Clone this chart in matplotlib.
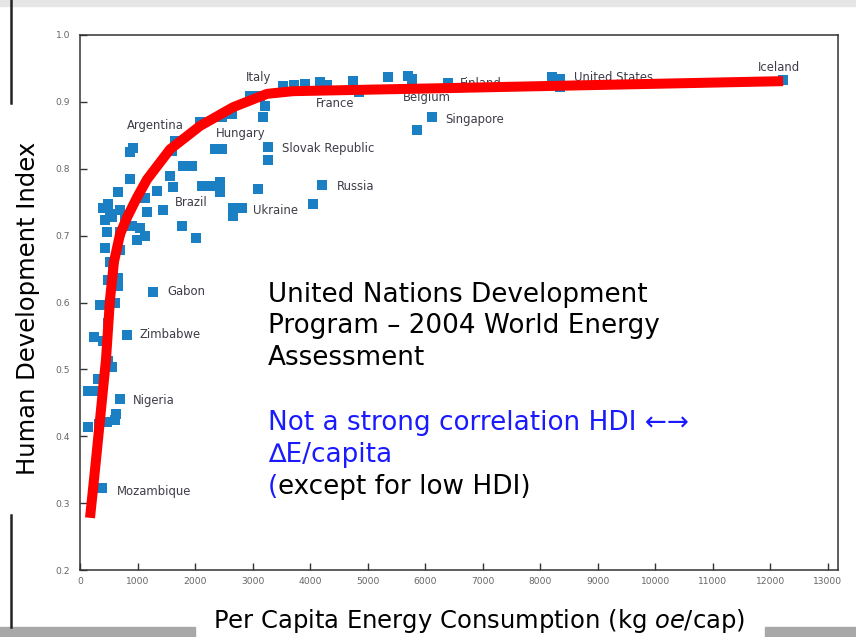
import matplotlib
matplotlib.use("Agg")
import matplotlib.pyplot as plt
from matplotlib.lines import Line2D
from matplotlib.patches import Rectangle

# per capita energy use (kg oe/cap) and HDI
energy = [12225, 8208, 8347, 8347, 6400, 5704, 5773, 5356, 4748, 4852,
          4174, 4295, 3913, 3722, 3530, 2956, 3130, 3217, 3183, 2643,
          2469, 2087, 6121, 5860, 3269, 3269, 2348, 2469, 1652, 1600,
          870, 922, 1791, 1948, 1565, 1617, 870, 2122, 2261, 2435,
          2435, 3095, 4208, 4052, 2661, 2817, 2661, 1443, 1339, 661,
          1130, 487, 696, 1165, 435, 1774, 2017, 904, 1043, 470,
          991, 1130, 696, 435, 696, 574, 487, 661, 661, 348,
          609, 487, 243, 400, 817, 1269, 487, 556, 313, 139,
          243, 696, 139, 330, 470, 609, 626, 383, 522, 783,
          522, 400, 560]
hdi = [0.933, 0.937, 0.934, 0.922, 0.928, 0.939, 0.934, 0.937, 0.931, 0.915,
       0.930, 0.925, 0.927, 0.925, 0.924, 0.909, 0.909, 0.894, 0.877, 0.882,
       0.877, 0.870, 0.877, 0.858, 0.832, 0.813, 0.829, 0.829, 0.841, 0.826,
       0.825, 0.831, 0.804, 0.804, 0.789, 0.772, 0.784, 0.774, 0.774, 0.780,
       0.765, 0.769, 0.775, 0.748, 0.742, 0.742, 0.729, 0.739, 0.766, 0.765,
       0.756, 0.748, 0.739, 0.736, 0.724, 0.714, 0.697, 0.714, 0.712, 0.706,
       0.694, 0.699, 0.705, 0.682, 0.679, 0.652, 0.634, 0.637, 0.624, 0.596,
       0.600, 0.570, 0.549, 0.543, 0.552, 0.616, 0.513, 0.504, 0.486, 0.468,
       0.467, 0.455, 0.414, 0.419, 0.422, 0.425, 0.434, 0.323, 0.732, 0.727,
       0.661, 0.742, 0.728]

# country labels as printed on the chart
countries = ["Iceland", "United States", "Finland", "Belgium", "France", "Italy",
             "Singapore", "Argentina", "Hungary", "Slovak Republic", "Russia",
             "Brazil", "Ukraine", "Gabon", "Zimbabwe", "Nigeria", "Mozambique"]
label_pos = [(11790, 0.952), (8590, 0.937), (6608, 0.928), (5617, 0.907),
             (4104, 0.898), (2887, 0.937), (6347, 0.874), (817, 0.864),
             (2365, 0.853), (3513, 0.831), (4469, 0.774), (1652, 0.750),
             (3008, 0.738), (1513, 0.616), (1026, 0.552), (922, 0.453),
             (643, 0.318)]

# hand drawn red trend line
trend_x = [174, 261, 348, 452, 522, 591, 696, 817, 991, 1165, 1565, 2087,
           2661, 3252, 3704, 6608, 12225]
trend_y = [0.278, 0.350, 0.425, 0.515, 0.605, 0.661, 0.702, 0.727, 0.757,
           0.784, 0.829, 0.864, 0.892, 0.912, 0.916, 0.921, 0.931]

x_ticks = list(range(0, 13001, 1000))
y_ticks = [0.2, 0.3, 0.4, 0.5, 0.6, 0.7, 0.8, 0.9, 1.0]

W, H = 856, 637
fig = plt.figure(figsize=(W / 100, H / 100), dpi=100)
ax = fig.add_axes([80 / W, 1 - 570 / H, 758 / W, 535 / H])

ax.scatter(energy, hdi, marker="s", s=52, color="#1a7fc3", linewidths=0, zorder=2)
for name, (lx, ly) in zip(countries, label_pos):
    ax.text(lx, ly, name, fontsize=8.4, color="#3d3d48", va="center", ha="left", zorder=3)
ax.plot(trend_x, trend_y, color="#ff0000", lw=7.2, solid_capstyle="butt",
        solid_joinstyle="round", zorder=4)

ax.set_xlim(0, 13180)
ax.set_ylim(0.2, 1.0)
ax.set_xticks(x_ticks)
ax.set_yticks(y_ticks)
ax.set_xticklabels([str(t) for t in x_ticks])
ax.set_yticklabels(["%.1f" % t for t in y_ticks])
ax.tick_params(direction="in", length=5, width=1, color="#333333",
               labelsize=6.6, labelcolor="#666666")
ax.tick_params(axis="x", pad=5)
ax.tick_params(axis="y", pad=7)
for sp in ax.spines.values():
    sp.set_color("#333333")
    sp.set_linewidth(1.1)

# slide decoration around the pasted chart
fig.add_artist(Rectangle((0, 1 - 6 / H), 1, 6 / H, transform=fig.transFigure,
                         color="#e6e6e6", zorder=0))
fig.add_artist(Rectangle((0, 0), 195 / W, 10 / H, transform=fig.transFigure,
                         color="#a8a8a8", zorder=0))
fig.add_artist(Rectangle((765 / W, 0), 1 - 765 / W, 10 / H, transform=fig.transFigure,
                         color="#a8a8a8", zorder=0))
fig.add_artist(Line2D([11 / W, 11 / W], [1 - 103 / H, 1], transform=fig.transFigure,
                      color="#222222", lw=1.8))
fig.add_artist(Line2D([11 / W, 11 / W], [10 / H, 1 - 515 / H], transform=fig.transFigure,
                      color="#222222", lw=1.8))

axis_fs = 17.5
fig.text(28 / W, 1 - 308 / H, "Human Development Index", rotation=90,
         fontsize=axis_fs, ha="center", va="center", color="black")
fig.text(479 / W, 1 - 621 / H, "Per Capita Energy Consumption (kg $\\it{oe}$/cap)",
         fontsize=axis_fs, ha="center", va="center", color="black")

big = 18.9
left = 268 / W
lines = [("United Nations Development", 295, "black"),
         ("Program \u2013 2004 World Energy", 326, "black"),
         ("Assessment", 358, "black"),
         ("Not a strong correlation HDI \u2190\u2192", 423, "#1a1aff"),
         ("\u2206E/capita", 455, "#1a1aff")]
for txt, yy, col in lines:
    fig.text(left, 1 - yy / H, txt, fontsize=big, color=col, ha="left", va="center")
paren = fig.text(left, 1 - 487 / H, "(", fontsize=big, color="#1a1aff", ha="left", va="center")
rest = fig.text(left, 1 - 487 / H, "except for low HDI)", fontsize=big, color="black",
                ha="left", va="center")

fig.canvas.draw()
rest.set_x(left + paren.get_window_extent().width / W)

fig.savefig("out.png", dpi=100)
